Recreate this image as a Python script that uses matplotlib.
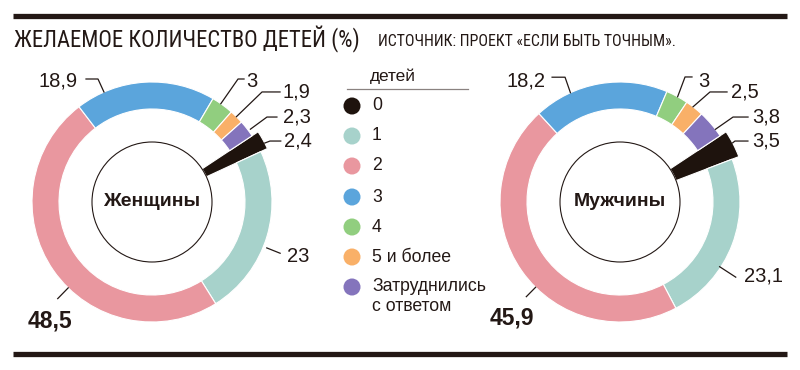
import matplotlib
matplotlib.use('Agg')
import numpy as np
from matplotlib import pyplot as plt
from matplotlib.patches import Circle

# data
categories = ['0', '1', '2', '3', '4', '5 и более', 'Затруднились\nс ответом']
women = [2.4, 23, 48.5, 18.9, 3, 1.9, 2.3]
men = [3.5, 23.1, 45.9, 18.2, 3, 2.5, 3.8]
colors = ['#1e130d', '#a7d2cb', '#e9979f', '#5ba5dc', '#91ce7f', '#f9b068', '#8474bc']

title = 'ЖЕЛАЕМОЕ КОЛИЧЕСТВО ДЕТЕЙ (%)'
source = 'ИСТОЧНИК: ПРОЕКТ «ЕСЛИ БЫТЬ ТОЧНЫМ».'
legend_title = 'детей'
names = ['Женщины', 'Мужчины']

ink = '#231815'
plt.rcParams['font.family'] = ['Liberation Sans', 'DejaVu Sans']
narrow = ['Roboto Condensed', 'PT Sans Narrow', 'Fira Sans Condensed', 'DejaVu Sans']

# label layout: theta, r0, elbow (None -> radial tick to r1), r1, tail, text xy, ha, bold
layout_w = [
    (27.6, 1.06, (0.983, 0.508), None, 0.09, (1.10, 0.508), 'left', False),
    (-21.8, 1.03, None, 1.15, 0, (1.125, -0.45), 'left', False),
    (-134.3, 1.0, None, 1.125, 0, (-0.85, -0.99), 'center', True),
    (113.6, 1.0, (-0.45, 1.025), None, -0.10, (-0.617, 1.008), 'right', False),
    (55.0, 1.0, (0.717, 1.025), None, 0.05, (0.783, 1.008), 'left', False),
    (45.3, 1.0, (0.917, 0.917), None, 0.15, (1.09, 0.917), 'left', False),
    (36.5, 1.02, (0.958, 0.708), None, 0.083, (1.09, 0.708), 'left', False),
]
layout_m = [
    (27.7, 1.06, (0.958, 0.508), None, 0.108, (1.10, 0.508), 'left', False),
    (-33.0, 0.99, None, 1.15, 0, (1.03, -0.62), 'left', False),
    (-134.7, 1.0, None, 1.11, 0, (-0.90, -0.967), 'center', True),
    (114.4, 1.0, (-0.458, 1.04), None, -0.108, (-0.617, 1.008), 'right', False),
    (61.3, 1.0, (0.542, 1.042), None, 0.058, (0.65, 1.008), 'left', False),
    (52.5, 1.0, (0.75, 0.917), None, 0.142, (0.925, 0.917), 'left', False),
    (37.3, 1.0, (0.942, 0.708), None, 0.125, (1.10, 0.708), 'left', False),
]


def fmt(v):
    return ('%g' % v).replace('.', ',')


fig = plt.figure(figsize=(8, 3.7), dpi=100)

# frame: rules, title, legend (pixel coordinates)
bg = fig.add_axes([0, 0, 1, 1])
bg.set_xlim(0, 800)
bg.set_ylim(370, 0)
bg.axis('off')
bg.plot([13, 787], [15.5, 15.5], color=ink, lw=3.8, solid_capstyle='butt')
bg.plot([13, 787], [354, 354], color=ink, lw=3.8, solid_capstyle='butt')
bg.text(14, 39, title, family=narrow, fontsize=16.3, color=ink, va='center', ha='left')
bg.text(378, 41.5, source, family=narrow, fontsize=11.4, color=ink, va='center', ha='left')

bg.text(370, 76, legend_title, fontsize=12.5, color=ink, va='center', ha='left')
bg.plot([347, 468], [89, 89], color='#8a8280', lw=0.9)
rows = [106, 136, 166, 197, 227, 257, 287]
for y, c, lab in zip(rows, colors, categories):
    bg.scatter([352], [y], s=150, color=c, edgecolors='none')
    if '\n' in lab:
        bg.text(372, y - 9, lab, fontsize=12.7, color=ink, va='top', ha='left', linespacing=1.2)
    else:
        bg.text(372, y, lab, fontsize=12.7, color=ink, va='center', ha='left')


def donut(cx, values, name, layout):
    ax = fig.add_axes([(cx - 150) / 800, 18 / 370, 300 / 800, 300 / 370])
    wedges, _ = ax.pie(values, colors=colors, startangle=33.5, counterclock=False, radius=1.0,
                       wedgeprops=dict(width=0.225, edgecolor='white', linewidth=0.8))
    wedges[0].set_radius(1.06)
    wedges[0].set_width(0.56)
    ax.add_patch(Circle((0, 0), 0.5, fill=False, ec=ink, lw=0.8))
    ax.text(0, 0, name, ha='center', va='center', fontsize=14, fontweight='bold', color=ink)
    for v, (theta, r0, elbow, r1, tail, txy, ha, bold) in zip(values, layout):
        t = np.radians(theta)
        x0, y0 = r0 * np.cos(t), r0 * np.sin(t)
        if elbow is None:
            ex, ey = r1 * np.cos(t), r1 * np.sin(t)
        else:
            ex, ey = elbow
        ax.plot([x0, ex, ex + tail], [y0, ey, ey], color=ink, lw=0.9, clip_on=False)
        ax.text(txy[0], txy[1], fmt(v), ha=ha, va='center', color=ink,
                fontsize=16.5 if bold else 14.5, fontweight='bold' if bold else 'normal',
                clip_on=False)
    ax.set_xlim(-1.25, 1.25)
    ax.set_ylim(-1.25, 1.25)
    ax.set_aspect('equal')
    ax.axis('off')


donut(152, women, names[0], layout_w)
donut(620, men, names[1], layout_m)

fig.savefig('out.png', dpi=100)
